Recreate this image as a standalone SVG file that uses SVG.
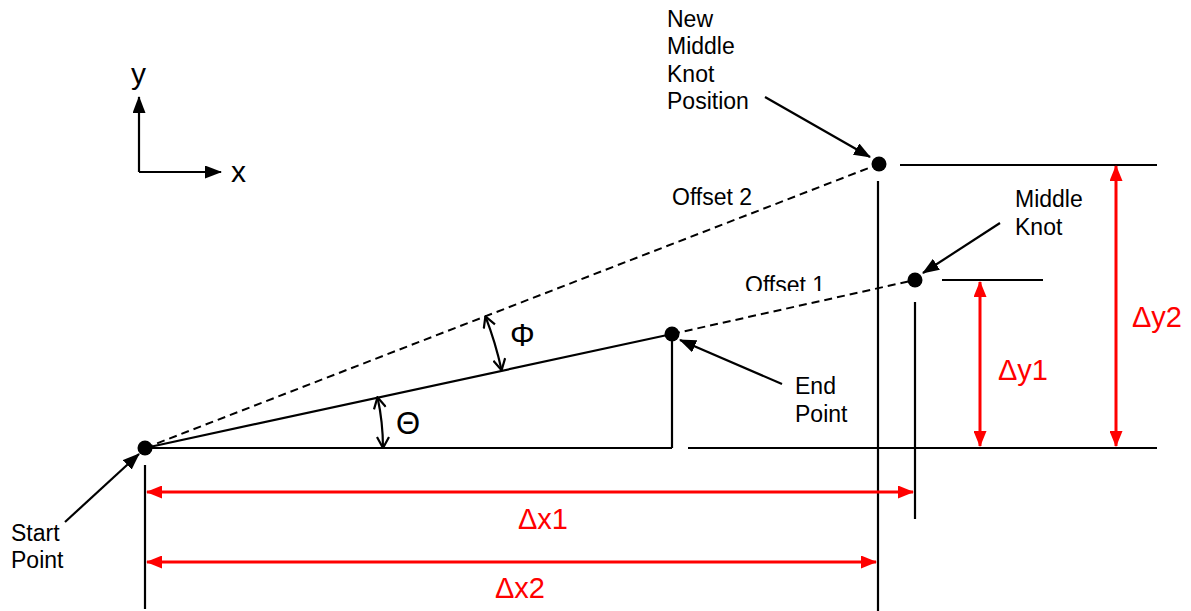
<svg xmlns="http://www.w3.org/2000/svg" width="1191" height="611" viewBox="0 0 1191 611">
<style>
text{font-family:"Liberation Sans",Arial,sans-serif;fill:#000}
.lbl{font-size:23px}
.red{fill:#ff0000;font-size:29px}
.greek{font-size:31px}
.ln{stroke:#000;stroke-width:2.2;fill:none}
.dash{stroke:#000;stroke-width:2;fill:none;stroke-dasharray:8 5}
.rl{stroke:#ff0000;stroke-width:3;fill:none}
</style>
<defs>
<marker id="ah" viewBox="0 0 17 13" refX="16" refY="6.5" markerWidth="17" markerHeight="13" markerUnits="userSpaceOnUse" orient="auto-start-reverse"><path d="M0,0 L17,6.5 L0,13 Z" fill="#000"/></marker>
<marker id="rh" viewBox="0 0 16 13" refX="15" refY="6.5" markerWidth="16" markerHeight="13" markerUnits="userSpaceOnUse" orient="auto-start-reverse"><path d="M0,0 L16,6.5 L0,13 Z" fill="#ff0000"/></marker>
<marker id="vh" viewBox="0 0 13 14" refX="12" refY="7" markerWidth="13" markerHeight="14" markerUnits="userSpaceOnUse" orient="auto-start-reverse"><path d="M1,1 L12,7 L1,13" fill="none" stroke="#000" stroke-width="2.2"/></marker>
<clipPath id="clipO1"><rect x="700" y="260" width="150" height="31"/></clipPath>
</defs>
<g id="axes">
<path class="ln" d="M139,172 V97" marker-end="url(#ah)"/>
<path class="ln" d="M139,172 H221" marker-end="url(#ah)"/>
<text x="131" y="84" style="font-size:30px">y</text>
<text x="231" y="182" style="font-size:30px">x</text>
</g>
<g id="connectors">
<path class="ln" d="M145,448 L672,334"/>
<path class="dash" d="M145,448 L879,164"/>
<path class="dash" d="M672,334 L915,280"/>
<path class="ln" d="M145,448 H672"/>
<path class="ln" d="M688,448 H1157"/>
<path class="ln" d="M672,334 V448"/>
<path class="ln" d="M145,465 V609"/>
<path class="ln" d="M878,181 V611"/>
<path class="ln" d="M900,165 H1157"/>
<path class="ln" d="M942,280 H1043"/>
<path class="ln" d="M915,302 V519"/>
<path class="rl" d="M980,282 V446" marker-start="url(#rh)" marker-end="url(#rh)"/>
<path class="rl" d="M1116,166 V446" marker-start="url(#rh)" marker-end="url(#rh)"/>
<path class="rl" d="M147,492 H913" marker-start="url(#rh)" marker-end="url(#rh)"/>
<path class="rl" d="M147,562 H876" marker-start="url(#rh)" marker-end="url(#rh)"/>
<path class="ln" d="M765,97 L870,157" marker-end="url(#ah)"/>
<path class="ln" d="M1000,223 L923,273" marker-end="url(#ah)"/>
<path class="ln" d="M782,384 L680,340" marker-end="url(#ah)"/>
<path class="ln" d="M65,522 L139,454" marker-end="url(#ah)"/>
<path class="ln" d="M485.4,316.3 A365,365 0 0 1 501.6,370.2" marker-start="url(#vh)" marker-end="url(#vh)"/>
<path class="ln" d="M377.5,397.3 A238,238 0 0 1 383,448" marker-start="url(#vh)" marker-end="url(#vh)"/>
</g>
<g id="start-point">
<circle cx="145" cy="448" r="7.5"/>
<text class="lbl" x="11" y="541">Start</text>
<text class="lbl" x="11" y="568">Point</text>
</g>
<g id="end-point">
<circle cx="672" cy="334" r="7.5"/>
<text class="lbl" x="795" y="394">End</text>
<text class="lbl" x="795" y="422">Point</text>
</g>
<g id="middle-knot">
<circle cx="915" cy="280" r="7.5"/>
<text class="lbl" x="1015" y="207">Middle</text>
<text class="lbl" x="1015" y="235">Knot</text>
</g>
<g id="new-middle-knot">
<circle cx="879" cy="164" r="7.5"/>
<text class="lbl" x="667" y="27">New</text>
<text class="lbl" x="667" y="54">Middle</text>
<text class="lbl" x="667" y="82">Knot</text>
<text class="lbl" x="667" y="109">Position</text>
</g>
<g id="labels">
<text class="lbl" x="672" y="205">Offset 2</text>
<text class="lbl" x="745" y="293" clip-path="url(#clipO1)">Offset 1</text>
<text class="greek" x="510" y="346">Φ</text>
<text class="greek" x="396" y="434">Θ</text>
<text class="red" x="1132" y="327">Δy2</text>
<text class="red" x="998" y="380">Δy1</text>
<text class="red" x="518" y="529">Δx1</text>
<text class="red" x="495" y="598">Δx2</text>
</g>
</svg>
